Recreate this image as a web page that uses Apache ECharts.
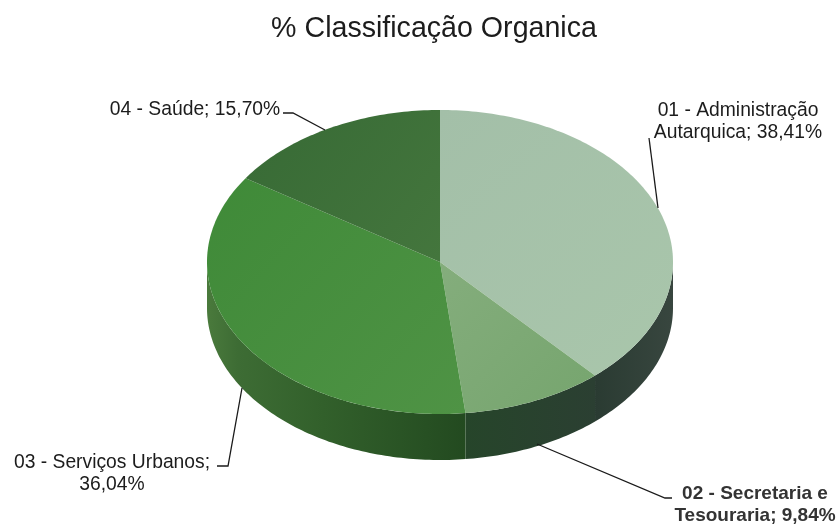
<!DOCTYPE html>
<html><head><meta charset="utf-8">
<style>html,body{margin:0;padding:0;background:#fff}#c{width:839px;height:524px}</style>
<script src="https://cdn.jsdelivr.net/npm/echarts@6/dist/echarts.min.js"></script>
</head><body><div id="c"></div>
<script>
const chartTitle = '% Classificação Organica';
const categories = ['01 - Administração Autarquica', '02 - Secretaria e Tesouraria', '03 - Serviços Urbanos', '04 - Saúde'];
const values = [38.41, 9.84, 36.04, 15.70];
const labelTexts = ['01 - Administração\nAutarquica; 38,41%', '02 - Secretaria e\nTesouraria; 9,84%', '03 - Serviços Urbanos;\n36,04%', '04 - Saúde; 15,70%'];

const topColors = [['#a3bfa8', '#a9c6ab'], ['#84ad7c', '#76a56e'], ['#3f8a38', '#4f9345'], ['#376a35', '#44763d']];
const wallStops = [
  [[0, '#2a3b32'], [1, '#38463f']],
  [[0, '#26452a'], [1, '#2b3f32']],
  [[0, '#4a7a3c'], [0.12, '#3d6c34'], [0.45, '#32602b'], [1, '#234a20']],
  [[0, '#333333'], [1, '#333333']]
];
const cx = 440, cy = 262, rx = 233, ry = 152, depth = 46;
const total = values.reduce((a, b) => a + b, 0);
const pt = (deg, dy) => {
  const r = deg * Math.PI / 180;
  return [cx + rx * Math.sin(r), cy - ry * Math.cos(r) + (dy || 0)];
};
const arc = (a, b, dy) => {
  const out = [], n = Math.max(2, Math.ceil(Math.abs(b - a)));
  for (let i = 0; i <= n; i++) out.push(pt(a + (b - a) * i / n, dy));
  return out;
};
const lg = (stops) => ({ type: 'linear', x: 0, y: 0, x2: 1, y2: 0, colorStops: stops.map(s => ({ offset: s[0], color: s[1] })) });

function renderSlice(params, api) {
  const i = params.dataIndex;
  let before = 0;
  for (let k = 0; k < i; k++) before += values[k];
  const a = before / total * 360, b = (before + api.value(0)) / total * 360;
  const children = [];
  const wa = Math.max(a, 90), wb = Math.min(b, 270);
  if (wb > wa) {
    children.push({
      type: 'polygon', z2: 1, silent: true,
      shape: { points: arc(wa, wb, 0).concat(arc(wb, wa, depth)) },
      style: { fill: lg(wallStops[i]) }
    });
  }
  children.push({
    type: 'polygon', z2: 2, silent: true,
    shape: { points: [[cx, cy]].concat(arc(a, b, 0)) },
    style: { fill: { type: 'linear', x: 0, y: 0, x2: 1, y2: 1, colorStops: [{ offset: 0, color: topColors[i][0] }, { offset: 1, color: topColors[i][1] }] } }
  });
  return { type: 'group', children };
}

const lineColor = '#1a1a1a';
const leaders = [
  [[658, 208], [649, 138]],
  [[537, 444], [665, 498], [672, 498]],
  [[242, 388], [228, 466], [217, 466]],
  [[325, 130], [293, 113], [283, 113]]
];
const labelFrames = [
  { x: 738, y: 122, font: '19.3px', color: '#1c1c1c' },
  { x: 755, y: 505, font: 'bold 19px', color: '#333333' },
  { x: 112, y: 474, font: '19.3px', color: '#1c1c1c' },
  { x: 195, y: 110, font: '19.3px', color: '#1c1c1c' }
];

const chart = echarts.init(document.getElementById('c'), null, { renderer: 'canvas' });
chart.setOption({
  animation: false,
  backgroundColor: '#ffffff',
  title: {
    text: chartTitle, left: 429, top: 10, textAlign: 'center',
    textStyle: { fontFamily: 'Liberation Sans', fontSize: 28.6, fontWeight: 'normal', color: '#1c1c1c' }
  },
  series: [{
    type: 'custom', coordinateSystem: 'none', silent: true,
    data: categories.map((c, i) => ({ name: c, value: [values[i]] })),
    renderItem: renderSlice
  }],
  graphic: {
    elements: [
      ...leaders.map(p => ({
        type: 'polyline', silent: true, z: 5, shape: { points: p },
        style: { stroke: lineColor, lineWidth: 1.3, fill: null }
      })),
      ...labelTexts.map((t, i) => ({
        type: 'text', silent: true, z: 6, x: labelFrames[i].x, y: labelFrames[i].y,
        style: {
          text: t, fill: labelFrames[i].color, align: 'center', verticalAlign: 'middle', lineHeight: 22,
          font: labelFrames[i].font + ' "Liberation Sans"'
        }
      }))
    ]
  }
});
</script></body></html>
